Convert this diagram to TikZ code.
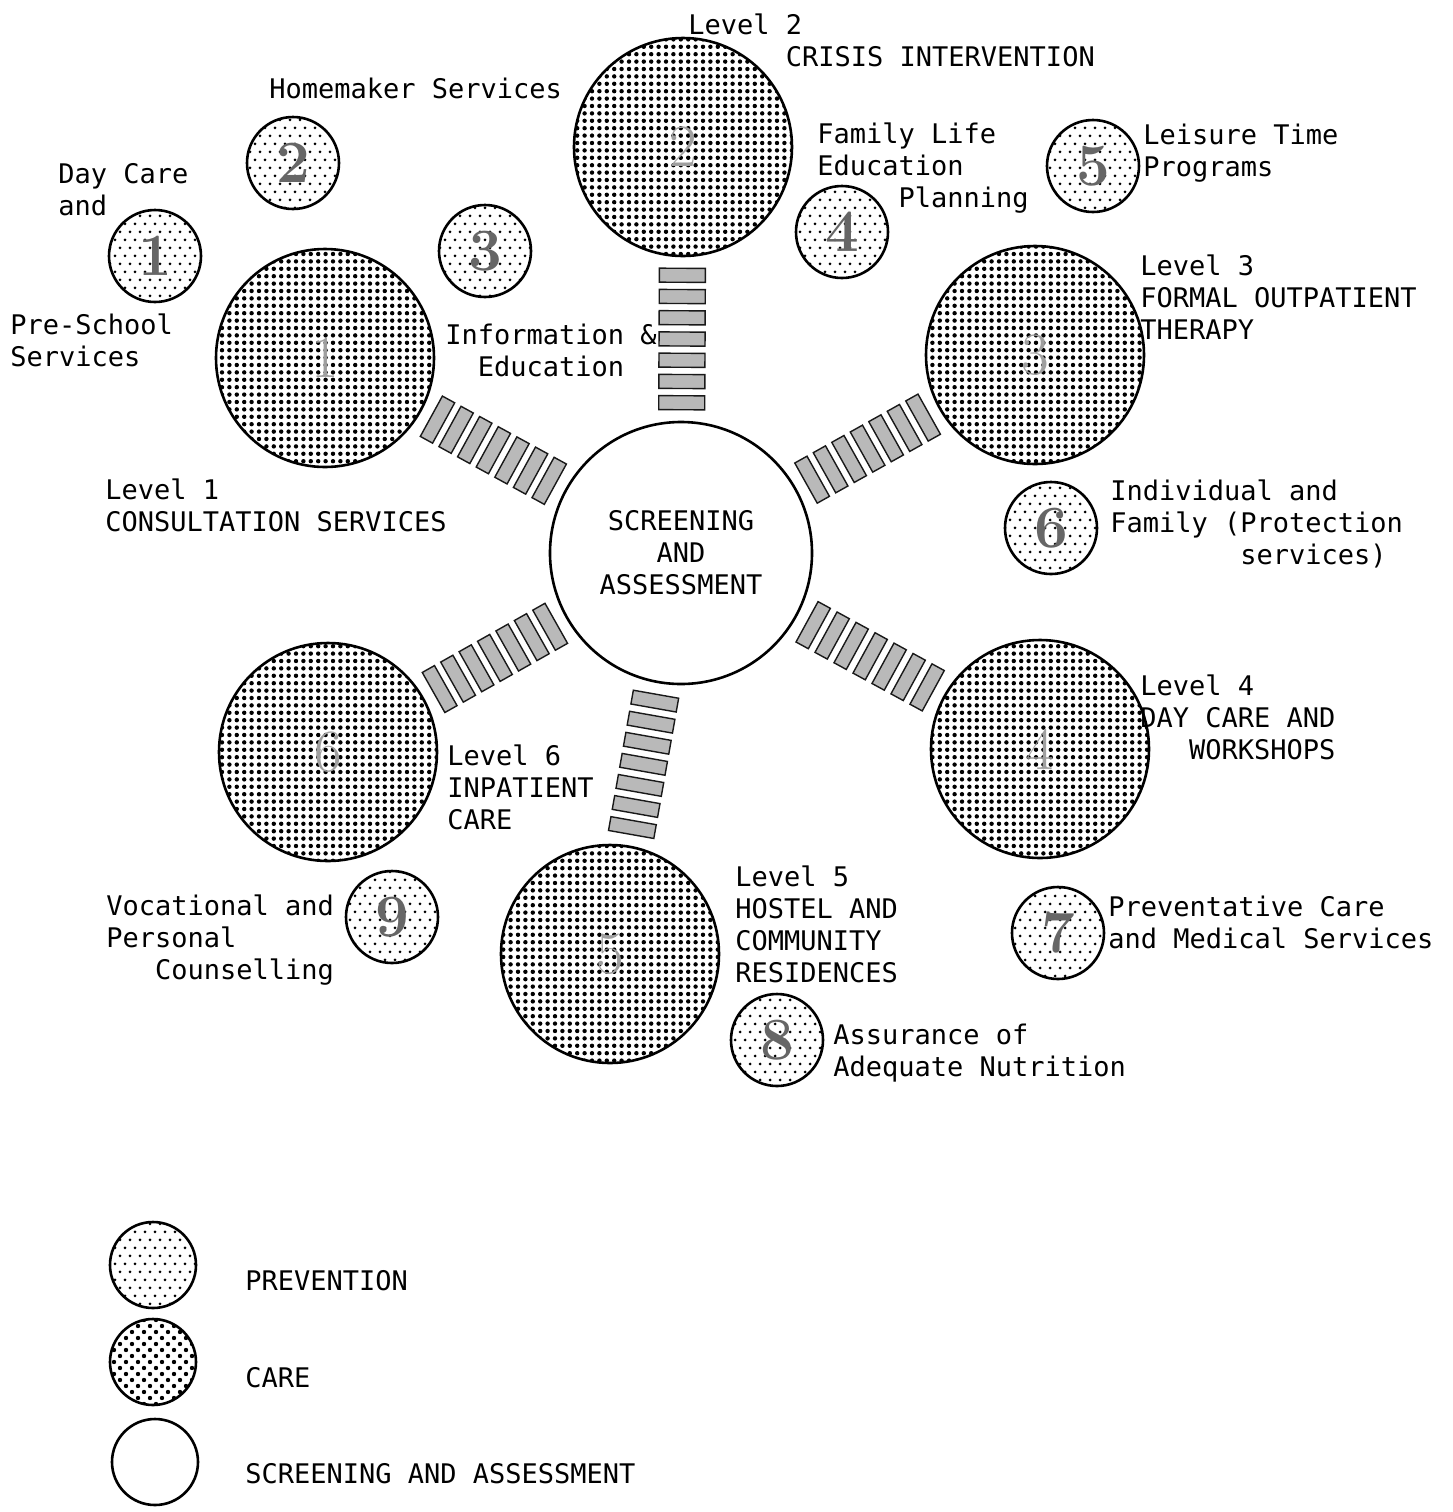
\documentclass[tikz,border=0pt]{standalone}
\usepackage{fontspec}
\setmonofont{DejaVu Sans Mono}
\usetikzlibrary{positioning,patterns}

% dot fills for the two kinds of service
\pgfdeclarepatternformonly{caredots}{\pgfpoint{-1.3pt}{-1.3pt}}{\pgfpoint{1.3pt}{1.3pt}}{\pgfpoint{3.7pt}{3.7pt}}{%
  \pgfpathcircle{\pgfpointorigin}{1.1pt}\pgfusepath{fill}}
\pgfdeclarepatternformonly{prevdots}{\pgfpoint{-1pt}{-1pt}}{\pgfpoint{3.5pt}{5pt}}{\pgfpoint{5pt}{8pt}}{%
  \pgfpathcircle{\pgfpointorigin}{0.75pt}\pgfusepath{fill}%
  \pgfpathcircle{\pgfpoint{2.5pt}{4pt}}{0.75pt}\pgfusepath{fill}}
\pgfdeclarepatternformonly{keydots}{\pgfpoint{-1.3pt}{-1.3pt}}{\pgfpoint{4.3pt}{4.3pt}}{\pgfpoint{6pt}{6pt}}{%
  \pgfpathcircle{\pgfpointorigin}{1.1pt}\pgfusepath{fill}%
  \pgfpathcircle{\pgfpoint{3pt}{3pt}}{1.1pt}\pgfusepath{fill}}

\begin{document}
\begin{tikzpicture}[x=0.5pt, y=-0.5pt]
\tikzstyle{care}=[circle, draw, line width=1.3pt, pattern=caredots, minimum size=109pt, inner sep=0pt, text=gray!75, font=\fontsize{30}{30}\selectfont]
\tikzstyle{prev}=[circle, draw, line width=1.3pt, pattern=prevdots, minimum size=46pt, inner sep=0pt, text=gray!80!black, font=\fontsize{30}{30}\selectfont\bfseries]
\tikzstyle{rung}=[rectangle, draw=black!90, line width=0.7pt, fill=gray!55, minimum width=7pt, minimum height=23pt, inner sep=0pt]
\tikzstyle{txt}=[font=\ttfamily\fontsize{13.5}{16}\selectfont, align=left, inner sep=0pt, anchor=west]
\useasboundingbox (0,0) rectangle (1453,1512);

% centre
\node[circle, draw, line width=1.3pt, minimum size=131pt, txt, align=center, anchor=center] (sa) at (681,553) {SCREENING\\AND\\ASSESSMENT};

% care levels
\node[care] (c1) at (325,358) {1};
\node[care] (c2) at (683,147) {2};
\node[care] (c3) at (1035,355) {3};
\node[care] (c4) at (1040,749) {4};
\node[care] (c5) at (610,954) {5};
\node[care] (c6) at (328,752) {6};

% prevention
\node[prev] (p1) at (155,256) {1};
\node[prev] (p2) at (293,163) {2};
\node[prev] (p3) at (485,251) {3};
\node[prev] (p4) at (842,232) {4};
\node[prev] (p5) at (1093,166) {5};
\node[prev] (p6) at (1051,528) {6};
\node[prev] (p7) at (1058,933) {7};
\node[prev] (p8) at (777,1040) {8};
\node[prev] (p9) at (392,917) {9};

% ladders
\foreach \c in {c1,c2,c3,c4,c5,c6}
  \foreach \rp in {0.11,0.24,0.37,0.50,0.63,0.76,0.89}
    \path (sa) -- (\c) node[rung, sloped, pos=\rp] {};

% labels
\node[txt] (t2) at (688,40) {Level 2\\\phantom{Level }CRISIS INTERVENTION};
\node[txt] (tp2) at (269,88) {Homemaker Services};
\node[txt] (tp1a) at (58,190) {Day Care\\and};
\node[txt] (tp1b) at (10,340) {Pre-School\\Services};
\node[txt, align=center, anchor=center] (tp3) at (551,350) {Information \&\\Education};
\node[txt] (t1) at (105,505) {Level 1\\CONSULTATION SERVICES};
\node[txt] (tp4) at (817,168) {Family Life\\Education\\\phantom{Educa}Planning};
\node[txt] (tp5) at (1143,153) {Leisure Time\\Programs};
\node[txt] (t3) at (1140,297) {Level 3\\FORMAL OUTPATIENT\\THERAPY};
\node[txt] (tp6) at (1110,525) {Individual and\\Family (Protection\\\phantom{Family (}services)};
\node[txt] (t4) at (1140,717) {Level 4\\DAY CARE AND\\\phantom{DAY}WORKSHOPS};
\node[txt] (t6) at (447,787) {Level 6\\INPATIENT\\CARE};
\node[txt] (t5) at (735,924) {Level 5\\HOSTEL AND\\COMMUNITY\\RESIDENCES};
\node[txt] (tp9) at (106,940) {Vocational and\\Personal\\\phantom{Voc}Counselling};
\node[txt] (tp7) at (1108,922) {Preventative Care\\and Medical Services};
\node[txt] (tp8) at (833,1053) {Assurance of\\Adequate Nutrition};

% legend
\node[prev, minimum size=43pt] (lp) at (153,1265) {};
\node[care, pattern=keydots, minimum size=43pt] (lc) at (153,1362) {};
\node[circle, draw, line width=1.3pt, minimum size=43pt] (ls) at (155,1462) {};
\node[txt] (lpt) at (245,1281) {PREVENTION};
\node[txt] (lct) at (245,1378) {CARE};
\node[txt] (lst) at (245,1474) {SCREENING AND ASSESSMENT};
\end{tikzpicture}
\end{document}
